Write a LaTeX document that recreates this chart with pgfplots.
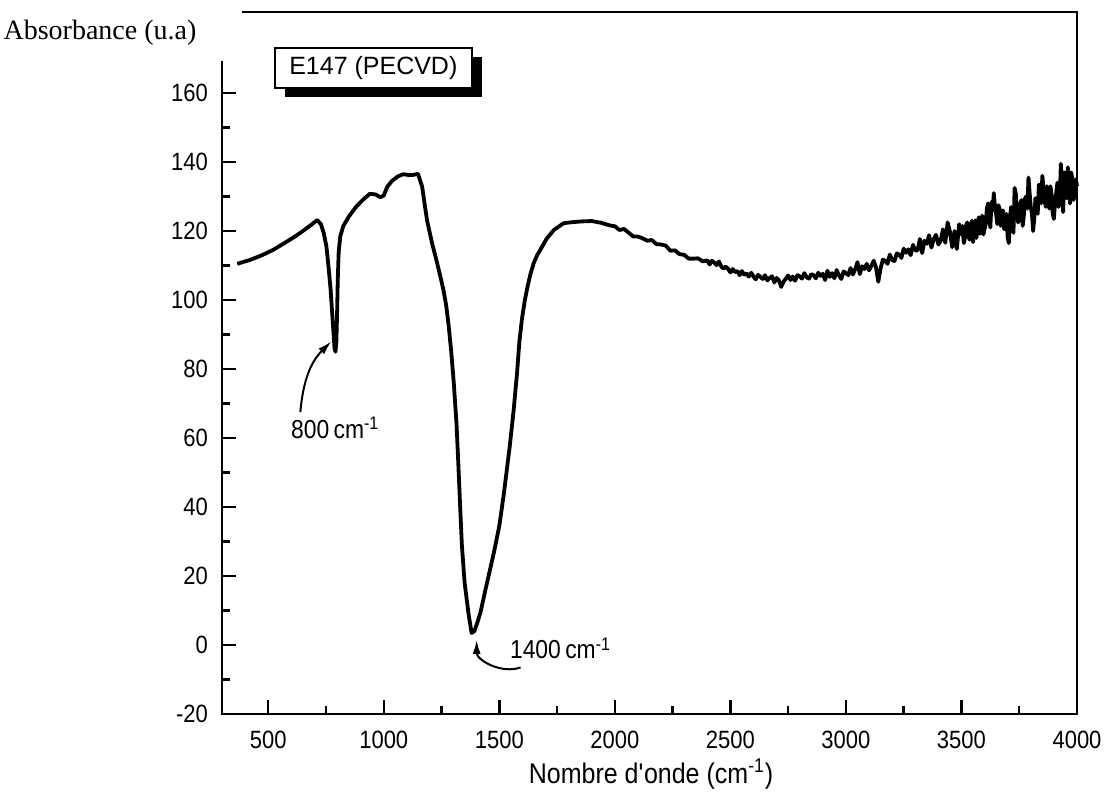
\documentclass[border=0pt]{standalone}
\usepackage{fontspec}
\setmainfont{Liberation Sans}[FakeStretch=0.88]
\newfontfamily\widefont{Liberation Sans}
\newfontfamily\timesfont{Liberation Serif}
\usepackage{pgfplots}
\pgfplotsset{compat=1.18}
\usepackage{pgfplotstable}
\usetikzlibrary{arrows.meta,shadows}

% IR spectrum, E147 (PECVD)
\pgfplotstableread{
x y
366 110.5
380 110.8
420 111.6
470 112.9
520 114.5
570 116.5
620 118.6
660 120.5
690 122.0
712 123.2
728 122.0
740 119.5
752 115.5
762 109.0
770 103.0
776 97.0
782 91.0
787 86.0
791 85.0
795 88.0
798 96.0
801 106.0
805 114.0
812 118.5
825 121.5
850 124.3
880 127.0
912 129.2
940 130.8
965 130.6
985 129.8
1000 130.3
1015 132.8
1035 134.5
1060 135.8
1085 136.5
1110 136.2
1130 136.3
1148 136.6
1166 132.9
1187 123.2
1209 116.5
1230 111.0
1245 106.8
1258 103.0
1270 98.5
1281 92.5
1292 85.0
1303 76.0
1315 64.0
1323 52.0
1330 41.0
1338 29.0
1350 18.0
1367 9.0
1380 3.5
1392 4.0
1405 6.5
1418 9.3
1445 17.5
1476 26.6
1500 34.5
1520 44.0
1545 57.5
1562 68.0
1577 79.0
1587 88.0
1598 94.5
1610 99.8
1622 103.8
1635 107.6
1649 110.7
1663 112.9
1678 114.6
1705 117.8
1736 120.3
1779 122.3
1820 122.6
1860 122.8
1900 122.9
1940 122.4
1980 121.6
2000 121.4
2020 120.3
2040 120.6
2060 119.5
2080 118.4
2100 118.4
2120 117.9
2140 117.2
2160 117.4
2180 116.2
2200 116.1
2220 115.8
2240 114.3
2260 114.4
2280 113.3
2300 113.1
2320 112.0
2340 112.0
2360 112.1
2380 111.2
2400 111.5
2410 110.3
2420 111.4
2430 110.9
2440 110.1
2450 111.2
2460 109.8
2470 109.1
2480 109.7
2490 109.0
2500 108.0
2510 109.0
2520 108.1
2530 108.4
2540 107.2
2550 108.4
2560 107.3
2570 107.7
2580 106.8
2590 107.9
2600 106.8
2610 106.0
2620 107.3
2630 106.7
2640 106.1
2650 107.2
2660 105.7
2670 106.4
2680 106.9
2690 105.1
2700 106.4
2710 105.7
2720 103.8
2730 105.3
2740 106.2
2750 107.1
2760 105.8
2770 106.8
2780 105.6
2790 107.2
2800 106.9
2810 106.2
2820 107.8
2830 106.6
2840 106.2
2850 107.5
2860 107.2
2870 106.3
2880 107.9
2890 107.0
2900 107.6
2910 105.8
2920 108.5
2930 106.7
2940 107.8
2950 106.3
2960 108.7
2970 107.1
2980 106.1
2990 108.3
3000 107.8
3010 107.2
3020 109.3
3030 107.4
3040 108.9
3050 111.0
3060 107.5
3070 109.8
3080 109.0
3090 110.5
3100 108.6
3110 109.9
3120 111.4
3130 109.5
3140 105.3
3150 109.2
3160 111.7
3170 111.4
3180 110.5
3190 113.2
3200 111.6
3210 111.3
3220 113.5
3230 113.2
3240 112.2
3250 114.9
3260 113.7
3270 114.7
3280 113.0
3290 116.0
3300 114.4
3310 114.4
3320 117.7
3330 113.6
3340 117.2
3350 116.3
3360 118.8
3370 115.2
3380 117.7
3390 118.9
3400 116.1
3410 117.2
3420 120.5
3430 116.6
3440 122.5
3450 119.8
3460 115.3
3470 120.0
3480 114.8
3490 122.0
3500 119.0
3505 121.5
3510 116.5
3515 118.0
3520 121.6
3525 122.5
3530 118.7
3535 117.5
3540 121.4
3545 123.0
3550 116.8
3555 119.5
3560 123.1
3565 118.0
3570 121.7
3575 124.0
3580 119.2
3585 122.5
3590 124.5
3595 119.0
3600 120.6
3605 122.0
3610 126.5
3615 128.0
3620 124.0
3625 121.0
3630 128.5
3635 126.0
3640 131.0
3645 127.0
3650 125.0
3655 122.0
3660 127.5
3665 126.5
3670 121.5
3675 124.0
3680 126.0
3685 120.5
3690 122.5
3695 125.0
3700 118.0
3705 116.5
3710 124.0
3715 127.0
3720 121.0
3725 119.5
3730 132.5
3735 131.0
3740 126.0
3745 122.5
3750 123.5
3755 128.0
3760 129.0
3765 121.5
3770 124.5
3775 129.5
3780 130.0
3785 126.5
3790 135.5
3795 131.0
3800 127.0
3805 125.0
3810 120.0
3815 123.5
3820 129.5
3825 126.0
3830 125.0
3835 133.5
3840 131.0
3845 128.0
3850 136.0
3855 132.5
3860 129.0
3865 127.0
3870 133.0
3875 129.5
3880 126.5
3885 133.0
3890 130.5
3895 125.0
3900 123.5
3905 128.5
3910 131.0
3915 134.0
3920 127.0
3925 128.0
3930 139.5
3935 133.0
3940 125.5
3945 137.0
3950 134.0
3955 129.5
3960 138.5
3965 134.0
3970 128.0
3975 137.0
3980 135.0
3985 129.0
3990 131.0
3995 135.0
4000 133.0
}\spectrum

\begin{document}
\begin{tikzpicture}
\useasboundingbox (0,0) rectangle (553.5pt,401.5pt);
\begin{axis}[
    at={(111pt,44.5pt)}, anchor=south west,
    scale only axis, width=427.5pt, height=351pt,
    xmin=300, xmax=4000, ymin=-20, ymax=183.5,
    xtick={500,1000,...,4000}, minor xtick={750,1250,...,3750},
    ytick={-20,0,...,160}, minor ytick={-10,10,...,150},
    xtick pos=bottom, ytick pos=left, tick align=inside,
    major tick length=7pt, minor tick length=4pt,
    tick style={black, line width=1.2pt},
    axis line style={draw=none},
    /pgf/number format/assume math mode=true,
    /pgf/number format/1000 sep={},
    ticklabel style={font=\fontsize{12.5}{15}\selectfont},
    xticklabel shift=5pt,
    yticklabel shift=3.5pt,
    xlabel={Nombre d\textquotesingle onde (cm\textsuperscript{-1})},
    xlabel style={at={(axis description cs:0.5018,-0.054)}, anchor=north,
        font=\fontsize{14.2}{17}\selectfont},
    clip=false,
]
\addplot[black, line width=1.9pt, line join=round] table[x=x, y=y] {\spectrum};

% frame (top left corner open, as in the scan)
\draw[line width=1.3pt] (rel axis cs:0,0.93) -- (rel axis cs:0,0) -- (rel axis cs:1,0)
    -- (rel axis cs:1,1) -- (rel axis cs:0.0234,1);

\node[font=\timesfont\fontsize{14}{17}\selectfont] at (rel axis cs:-0.1427,0.970) {Absorbance (u.a)};

\node[draw, line width=1pt, fill=white, minimum width=98.5pt, minimum height=20pt,
      drop shadow={shadow xshift=5pt, shadow yshift=-4.5pt, fill=black, opacity=1},
      font=\widefont\fontsize{12.5}{15}\selectfont] at (rel axis cs:0.177,0.920) {E147 (PECVD)};

\node[font=\fontsize{13}{15}\selectfont] at (axis cs:790,63) {800\,cm\textsuperscript{-1}};
\draw[line width=1pt, -{Latex[length=7pt,width=4pt]}] (axis cs:639,67.5) to[out=85,in=225] (axis cs:773,88);

\node[font=\fontsize{13}{15}\selectfont] at (axis cs:1765,-1) {1400\,cm\textsuperscript{-1}};
\draw[line width=1pt, -{Latex[length=7pt,width=4pt]}] (axis cs:1592,-6.5) to[out=200,in=270] (axis cs:1402,1.5);
\end{axis}
\end{tikzpicture}
\end{document}
